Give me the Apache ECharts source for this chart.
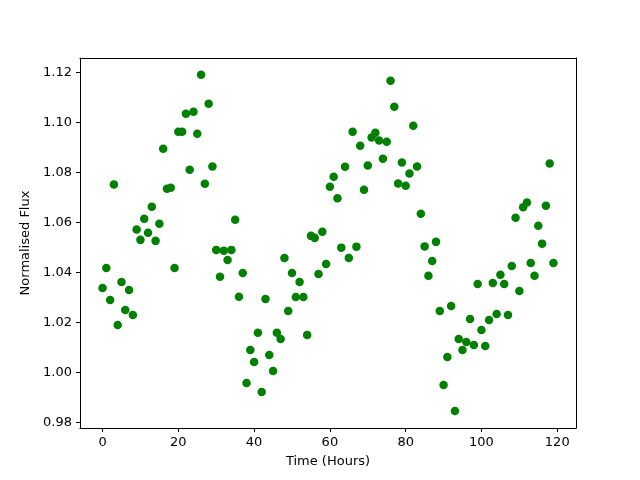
<!DOCTYPE html>
<html>
<head>
<meta charset="utf-8">
<script src="https://cdn.jsdelivr.net/npm/echarts@6/dist/echarts.min.js"></script>
<style>
  html, body { margin: 0; padding: 0; background: #fff; }
  #chart { width: 640px; height: 480px; }
</style>
</head>
<body>
<div id="chart"></div>
<script>
  // hours 0..119, one reading per hour
  const hours = Array.from({ length: 120 }, (_, i) => i)
  const flux = [
    1.0338, 1.0418, 1.0290, 1.0751, 1.0190, 1.0362, 1.0250, 1.0330, 1.0230, 1.0571,
    1.0530, 1.0614, 1.0558, 1.0662, 1.0526, 1.0594, 1.0894, 1.0734, 1.0738, 1.0418,
    1.0962, 1.0962, 1.1034, 1.0810, 1.1042, 1.0954, 1.1190, 1.0754, 1.1074, 1.0823,
    1.0490, 1.0383, 1.0487, 1.0450, 1.0490, 1.0610, 1.0303, 1.0398, 0.9958, 1.0090,
    1.0042, 1.0159, 0.9922, 1.0294, 1.0070, 1.0006, 1.0159, 1.0134, 1.0458, 1.0246,
    1.0398, 1.0302, 1.0362, 1.0302, 1.0150, 1.0546, 1.0538, 1.0394, 1.0562, 1.0434,
    1.0742, 1.0782, 1.0696, 1.0499, 1.0822, 1.0458, 1.0962, 1.0503, 1.0906, 1.0730,
    1.0827, 1.0939, 1.0958, 1.0927, 1.0854, 1.0922, 1.1166, 1.1062, 1.0755, 1.0839,
    1.0746, 1.0795, 1.0986, 1.0823, 1.0634, 1.0504, 1.0387, 1.0446, 1.0522, 1.0246,
    0.9950, 1.0062, 1.0266, 0.9846, 1.0134, 1.0090, 1.0122, 1.0214, 1.0110, 1.0354,
    1.0170, 1.0106, 1.0210, 1.0358, 1.0234, 1.0391, 1.0354, 1.0230, 1.0426, 1.0618,
    1.0326, 1.0660, 1.0679, 1.0438, 1.0387, 1.0586, 1.0515, 1.0666, 1.0835, 1.0438,
  ]
  const xTicks = [0, 20, 40, 60, 80, 100, 120]
  const yTicks = [0.98, 1.0, 1.02, 1.04, 1.06, 1.08, 1.1, 1.12]

  const font = 'DejaVu Sans'
  const xMin = -5.95
  const xMax = 124.95
  const yMin = 0.9778
  const yMax = 1.1257
  const chart = echarts.init(document.getElementById('chart'))

  // plain frame axes for the top and right edges
  const frameAxis = {
    type: 'value',
    axisLine: { show: true, onZero: false, lineStyle: { color: '#000', width: 1 } },
    axisTick: { show: false },
    axisLabel: { show: false },
    splitLine: { show: false },
  }

  const option = {
    animation: false,
    grid: {
      left: 80,
      right: 64,
      top: 58,
      bottom: 52,
    },
    xAxis: [
      {
        type: 'value',
        min: xMin,
        max: xMax,
        name: 'Time (Hours)',
        nameLocation: 'middle',
        nameGap: 27,
        nameTextStyle: { color: '#000', fontSize: 13, fontFamily: font },
        axisLine: { show: true, onZero: false, lineStyle: { color: '#000', width: 1 } },
        splitLine: { show: false },
        axisTick: {
          show: true,
          inside: false,
          length: 4,
          lineStyle: { color: '#000' },
          customValues: xTicks,
        },
        axisLabel: {
          color: '#000',
          fontSize: 13,
          fontFamily: font,
          margin: 8,
          customValues: xTicks,
          formatter: (v) => String(v),
        },
      },
      Object.assign({}, frameAxis, { position: 'top', min: xMin, max: xMax }),
    ],
    yAxis: [
      {
        type: 'value',
        min: yMin,
        max: yMax,
        name: 'Normalised Flux',
        nameLocation: 'middle',
        nameGap: 46,
        nameTextStyle: { color: '#000', fontSize: 13, fontFamily: font },
        axisLine: { show: true, onZero: false, lineStyle: { color: '#000', width: 1 } },
        splitLine: { show: false },
        axisTick: {
          show: true,
          inside: false,
          length: 4,
          lineStyle: { color: '#000' },
          customValues: yTicks,
        },
        axisLabel: {
          color: '#000',
          fontSize: 13,
          fontFamily: font,
          margin: 8,
          customValues: yTicks,
          formatter: (v) => v.toFixed(2),
        },
      },
      Object.assign({}, frameAxis, { position: 'right', min: yMin, max: yMax }),
    ],
    series: [
      {
        type: 'scatter',
        symbol: 'circle',
        symbolSize: 8.5,
        itemStyle: { color: '#008000', opacity: 1 },
        data: hours.map((h, i) => [h, flux[i]]),
      },
    ],
  }

  chart.setOption(option)
</script>
</body>
</html>
